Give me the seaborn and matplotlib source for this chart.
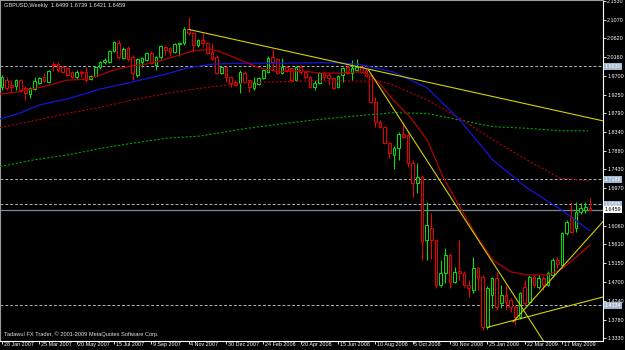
import numpy as np
import matplotlib
matplotlib.use("Agg")
import matplotlib.pyplot as plt
import matplotlib.transforms as mtransforms
from matplotlib import font_manager
import seaborn as sns

# ---------------- data ----------------
header_text = "GBPUSD,Weekly  1.6499 1.6739 1.6421 1.6459"
footer_text = "Tadawul FX Trader, \u00a9 2001-2009 MetaQuotes Software Corp."

opens = [1.943, 1.960, 1.948, 1.946, 1.960, 1.941, 1.927, 1.939, 1.953, 1.967,
         1.955, 1.998, 1.999, 1.992, 1.989, 1.980, 1.967, 1.980, 1.980, 1.963,
         1.970, 1.992, 2.003, 2.004, 2.030, 2.050, 2.014, 2.037, 2.016, 1.972,
         2.004, 2.009, 2.025, 1.997, 2.016, 2.040, 2.038, 2.028, 2.048, 2.050,
         2.084, 2.074, 2.045, 2.057, 2.050, 2.028, 2.016, 1.977, 1.992, 1.967,
         1.956, 1.953, 1.977, 1.960, 1.941, 1.951, 1.965, 1.980, 2.016, 2.011,
         1.977, 1.992, 1.989, 1.960, 1.992, 1.980, 1.967, 1.943, 1.953, 1.977,
         1.972, 1.965, 1.943, 1.972, 1.992, 1.977, 1.984, 1.992, 1.984, 1.972,
         1.907, 1.858, 1.846, 1.807, 1.778, 1.795, 1.829, 1.827, 1.759, 1.710,
         1.725, 1.572, 1.602, 1.572, 1.463, 1.492, 1.536, 1.470, 1.496, 1.492,
         1.463, 1.451, 1.504, 1.482, 1.361, 1.438, 1.480, 1.419, 1.438, 1.426,
         1.409, 1.385, 1.458, 1.421, 1.482, 1.458, 1.480, 1.463, 1.487, 1.523,
         1.511, 1.589, 1.627, 1.600, 1.640, 1.645, 1.6499]
highs = [1.972, 1.968, 1.960, 1.963, 1.963, 1.945, 1.944, 1.967, 1.968, 1.977,
         1.985, 2.003, 2.003, 1.997, 1.992, 1.982, 1.985, 1.985, 1.992, 1.973,
         1.994, 2.006, 2.014, 2.034, 2.055, 2.058, 2.040, 2.042, 2.021, 2.014,
         2.016, 2.028, 2.030, 2.019, 2.045, 2.043, 2.041, 2.050, 2.052, 2.088,
         2.113, 2.077, 2.060, 2.074, 2.053, 2.050, 2.020, 1.995, 1.995, 1.970,
         1.960, 1.984, 1.982, 1.963, 1.967, 1.968, 1.987, 2.018, 2.035, 2.014,
         2.014, 1.995, 1.992, 1.994, 1.996, 1.983, 1.970, 1.960, 1.980, 1.980,
         1.977, 1.968, 1.972, 1.992, 1.996, 2.009, 2.011, 1.996, 1.989, 1.975,
         1.919, 1.863, 1.849, 1.810, 1.800, 1.834, 1.858, 1.832, 1.766, 1.759,
         1.729, 1.664, 1.637, 1.575, 1.523, 1.553, 1.540, 1.506, 1.572, 1.496,
         1.475, 1.530, 1.506, 1.486, 1.460, 1.483, 1.494, 1.463, 1.463, 1.430,
         1.414, 1.446, 1.475, 1.487, 1.487, 1.487, 1.484, 1.496, 1.527, 1.531,
         1.592, 1.620, 1.664, 1.664, 1.661, 1.664, 1.6739]
lows = [1.936, 1.936, 1.931, 1.936, 1.931, 1.912, 1.916, 1.935, 1.950, 1.955,
        1.953, 1.982, 1.980, 1.977, 1.970, 1.965, 1.963, 1.967, 1.955, 1.960,
        1.968, 1.988, 2.000, 2.001, 2.027, 2.012, 2.010, 2.006, 1.960, 1.968,
        1.992, 2.006, 1.998, 1.985, 2.012, 2.021, 2.018, 2.025, 2.018, 2.045,
        2.070, 2.028, 2.040, 2.040, 2.023, 2.008, 1.974, 1.974, 1.955, 1.943,
        1.945, 1.929, 1.952, 1.931, 1.936, 1.948, 1.962, 1.977, 1.984, 1.974,
        1.974, 1.980, 1.955, 1.957, 1.975, 1.963, 1.940, 1.936, 1.950, 1.960,
        1.948, 1.938, 1.940, 1.955, 1.974, 1.960, 1.982, 1.977, 1.967, 1.904,
        1.846, 1.844, 1.805, 1.771, 1.745, 1.766, 1.819, 1.749, 1.676, 1.686,
        1.523, 1.523, 1.525, 1.455, 1.458, 1.468, 1.455, 1.468, 1.475, 1.458,
        1.434, 1.443, 1.450, 1.353, 1.356, 1.407, 1.402, 1.407, 1.402, 1.397,
        1.366, 1.380, 1.414, 1.416, 1.455, 1.453, 1.451, 1.460, 1.483, 1.505,
        1.505, 1.584, 1.588, 1.592, 1.635, 1.637, 1.6421]
closes = [1.967, 1.941, 1.943, 1.960, 1.936, 1.929, 1.941, 1.958, 1.965, 1.958,
          1.982, 1.996, 1.985, 1.980, 1.972, 1.967, 1.980, 1.977, 1.960, 1.970,
          1.992, 2.004, 2.008, 2.031, 2.052, 2.016, 2.035, 2.011, 1.977, 2.011,
          2.014, 2.025, 2.001, 2.016, 2.043, 2.033, 2.028, 2.048, 2.050, 2.084,
          2.074, 2.045, 2.057, 2.050, 2.026, 2.011, 1.977, 1.992, 1.967, 1.953,
          1.948, 1.980, 1.955, 1.943, 1.953, 1.965, 1.984, 2.014, 2.004, 1.977,
          1.992, 1.984, 1.960, 1.992, 1.980, 1.967, 1.943, 1.953, 1.977, 1.967,
          1.965, 1.941, 1.970, 1.989, 1.977, 1.989, 1.992, 1.980, 1.970, 1.907,
          1.858, 1.846, 1.807, 1.783, 1.795, 1.829, 1.822, 1.759, 1.710, 1.725,
          1.567, 1.608, 1.572, 1.463, 1.492, 1.536, 1.470, 1.494, 1.492, 1.463,
          1.455, 1.504, 1.480, 1.361, 1.455, 1.480, 1.409, 1.438, 1.421, 1.409,
          1.385, 1.443, 1.419, 1.482, 1.463, 1.480, 1.463, 1.492, 1.523, 1.514,
          1.589, 1.616, 1.591, 1.640, 1.650, 1.652, 1.6459]

date_tick_weeks = [0, 8, 16, 24, 32, 40, 48, 56, 64, 72, 80, 88, 96, 104, 112, 120]
date_tick_labels = ["28 Jan 2007", "25 Mar 2007", "20 May 2007", "15 Jul 2007",
                    "9 Sep 2007", "4 Nov 2007", "30 Dec 2007", "24 Feb 2008",
                    "20 Apr 2008", "15 Jun 2008", "10 Aug 2008", "5 Oct 2008",
                    "30 Nov 2008", "25 Jan 2009", "22 Mar 2009", "17 May 2009"]
price_ticks = [2.1530, 2.1070, 2.0620, 2.0160, 1.9700, 1.9250, 1.8790, 1.8340,
               1.7880, 1.7430, 1.6970, 1.6060, 1.5610, 1.5150, 1.4700, 1.4240,
               1.3780, 1.3330]

# moving averages (values at a set of weeks)
ma_red_weeks = [-0.43, 3.86, 10.3, 13.9, 18.1, 21, 23.8, 27.4, 31, 33.9, 38.1, 40.9,
                44.6, 46.7, 51, 55.3, 59.6, 63.9, 68.1, 72.4, 76.7, 78.9, 81, 83.8,
                87.4, 91.1, 94.5, 98.1, 101.8, 105.2, 108.9, 112.5, 116.8, 119.6,
                122.8, 126]
ma_red_vals = [1.926, 1.932, 1.948, 1.960, 1.962, 1.972, 1.984, 1.994, 1.999, 2.007,
               2.021, 2.031, 2.035, 2.029, 2.009, 1.989, 1.980, 1.983, 1.977, 1.977,
               1.980, 1.972, 1.951, 1.912, 1.871, 1.815, 1.725, 1.652, 1.579, 1.523,
               1.495, 1.487, 1.487, 1.499, 1.528, 1.560]
ma_blue_weeks = [-0.43, 3.86, 8.1, 13.9, 21, 28.1, 35.3, 39.6, 45.2, 52.5, 59.6, 66.6,
                 72.4, 76.7, 78.9, 83.8, 91.1, 98.1, 105.2, 112.5, 119.6, 126]
ma_blue_vals = [1.866, 1.880, 1.900, 1.914, 1.938, 1.956, 1.975, 1.989, 1.999, 2.001,
                2.001, 2.002, 2.002, 1.998, 1.992, 1.980, 1.941, 1.863, 1.766, 1.698,
                1.647, 1.594]
ma_reddot_weeks = [-0.43, 6.6, 13.9, 21, 28.1, 35.3, 42.4, 45.2, 52.5, 59.6, 66.6,
                   73.9, 81, 83.8, 91.1, 98.1, 105.2, 112.5, 119.6, 126]
ma_reddot_vals = [1.845, 1.861, 1.879, 1.894, 1.912, 1.928, 1.940, 1.944, 1.954,
                  1.956, 1.958, 1.958, 1.957, 1.948, 1.912, 1.867, 1.815, 1.766,
                  1.722, 1.715]
ma_green_weeks = [-0.43, 6.6, 13.9, 21, 28.1, 35.3, 42.4, 52.5, 59.6, 66.6, 73.9, 81,
                  83.8, 91.1, 98.1, 105.2, 112.5, 119.6, 125.6]
ma_green_vals = [1.750, 1.766, 1.778, 1.794, 1.807, 1.819, 1.824, 1.843, 1.853, 1.863,
                 1.871, 1.878, 1.881, 1.879, 1.863, 1.847, 1.843, 1.837, 1.837]

# trend lines: two anchor points (week, price); drawn as rays to the right
trend_week_a = [40.0, 78.5, 109.5, 104.0]
trend_price_a = [2.083, 1.985, 1.373, 1.360]
trend_week_b = [126.0, 113.1, 123.9, 126.0]
trend_price_b = [1.868, 1.378, 1.555, 1.4253]

hline_levels = [1.9930, 1.7188, 1.6585, 1.4134]
bid_price = 1.6459

# ---------------- drawing ----------------
sns.set_theme(style="dark", rc={"axes.facecolor": "black", "figure.facecolor": "black"})
plt.rcParams["font.family"] = ["Liberation Sans", "DejaVu Sans"]


def has_font(name):
    try:
        font_manager.findfont(font_manager.FontProperties(family=name),
                              fallback_to_default=False)
        return True
    except Exception:
        return False


if has_font("Liberation Sans Narrow"):
    AXFONT = ["Liberation Sans Narrow", "Liberation Sans", "DejaVu Sans"]
    AXSIZE = 4.9
    TXTSIZE = 5.0
else:
    AXFONT = ["Liberation Sans", "DejaVu Sans"]
    AXSIZE = 3.9
    TXTSIZE = 4.1

W, H = 625, 350
PX_PER_BAR = 4.667
fig = plt.figure(figsize=(W / 100, H / 100), dpi=100, facecolor="black")
ax = fig.add_axes([0, 9.5 / H, 603 / W, 340.5 / H])
ax.set_facecolor("black")
ax.grid(False)
ax.set_xlim(-2 / PX_PER_BAR, 601 / PX_PER_BAR)
ax.set_ylim(2.1544 - 340.5 / 412.0, 2.1544)

o = np.array(opens); hi = np.array(highs); lo = np.array(lows); c = np.array(closes)
idx = np.arange(len(o))
up = c >= o
cols = np.where(up, "#00E800", "#F00000")

# horizontal levels
for lv in hline_levels:
    ax.axhline(lv, color="#A9B4C2", lw=0.7, ls=(0, (3, 2)), zorder=1)
ax.axhline(bid_price, color="#778899", lw=0.9, zorder=1)

# candles
ax.vlines(idx, lo, hi, colors=cols, linewidth=0.75, zorder=3)
body_bottom = np.minimum(o, c)
body_h = np.maximum(np.abs(c - o), 0.0008)
ax.bar(idx, body_h, bottom=body_bottom, width=0.62, color="black",
       edgecolor=cols, linewidth=0.7, zorder=4)

# moving averages via seaborn
sns.lineplot(x=ma_green_weeks, y=ma_green_vals, ax=ax, color="#00A000", linewidth=0.8,
             linestyle=(0, (2, 1.6)), sort=False, estimator=None, zorder=5)
sns.lineplot(x=ma_reddot_weeks, y=ma_reddot_vals, ax=ax, color="#B00000", linewidth=0.8,
             linestyle=(0, (2, 1.6)), sort=False, estimator=None, zorder=5)
sns.lineplot(x=ma_blue_weeks, y=ma_blue_vals, ax=ax, color="#1515D8", linewidth=0.9,
             sort=False, estimator=None, zorder=5)
sns.lineplot(x=ma_red_weeks, y=ma_red_vals, ax=ax, color="#B40000", linewidth=0.9,
             sort=False, estimator=None, zorder=5)

# trend lines (rays)
x_end = 131.0
for wa, pa, wb, pb in zip(trend_week_a, trend_price_a, trend_week_b, trend_price_b):
    slope = (pb - pa) / (wb - wa)
    ax.plot([wa, x_end], [pa, pa + slope * (x_end - wa)], color="#D2D200", lw=0.8, zorder=6)

# axes styling
for s in ["right", "bottom"]:
    ax.spines[s].set_visible(True)
    ax.spines[s].set_color("white")
    ax.spines[s].set_linewidth(0.8)
for s in ["left", "top"]:
    ax.spines[s].set_visible(True)
    ax.spines[s].set_color("#9A9A9A")
    ax.spines[s].set_linewidth(0.8)

ax.yaxis.tick_right()
ax.set_yticks(price_ticks)
ax.set_yticklabels([f"{v:.4f}" for v in price_ticks], family=AXFONT)
ax.tick_params(axis="y", which="both", right=True, left=False, colors="white",
               labelcolor="white", length=2.0, width=0.6, pad=1.0, labelsize=AXSIZE,
               direction="out")
ax.set_xticks(date_tick_weeks)
ax.set_xticklabels(date_tick_labels, ha="left", family=AXFONT)
ax.tick_params(axis="x", which="both", bottom=True, colors="white", labelcolor="white",
               length=2.4, width=0.6, pad=-1.0, labelsize=AXSIZE, direction="out")
offset = mtransforms.ScaledTranslation(1.8 / 100, 0, fig.dpi_scale_trans)
for lbl in ax.get_xticklabels():
    lbl.set_transform(lbl.get_transform() + offset)

# price labels of levels
blend = mtransforms.blended_transform_factory(ax.transAxes, ax.transData)
for lv in hline_levels:
    ax.annotate(f"{lv:.4f}", xy=(1.0, lv), xycoords=blend, xytext=(1.4, 0),
                textcoords="offset points", ha="left", va="center", fontsize=AXSIZE,
                family=AXFONT, color="white", annotation_clip=False,
                bbox=dict(boxstyle="square,pad=0.15", fc="#A3B6CC", ec="none"))
ax.annotate(f"{bid_price:.4f}", xy=(1.0, bid_price), xycoords=blend, xytext=(1.4, 0),
            textcoords="offset points", ha="left", va="center", fontsize=AXSIZE,
            family=AXFONT, color="black", annotation_clip=False,
            bbox=dict(boxstyle="square,pad=0.15", fc="white", ec="none"))

fig.text(4 / W, 1 - 5.5 / H, header_text, color="#E6E6E6", fontsize=TXTSIZE,
         family=AXFONT, ha="left", va="center")
fig.text(4 / W, 1 - 334 / H, footer_text, color="#E6E6E6", fontsize=TXTSIZE,
         family=AXFONT, ha="left", va="center")

fig.savefig("out.png", dpi=100, facecolor="black")
